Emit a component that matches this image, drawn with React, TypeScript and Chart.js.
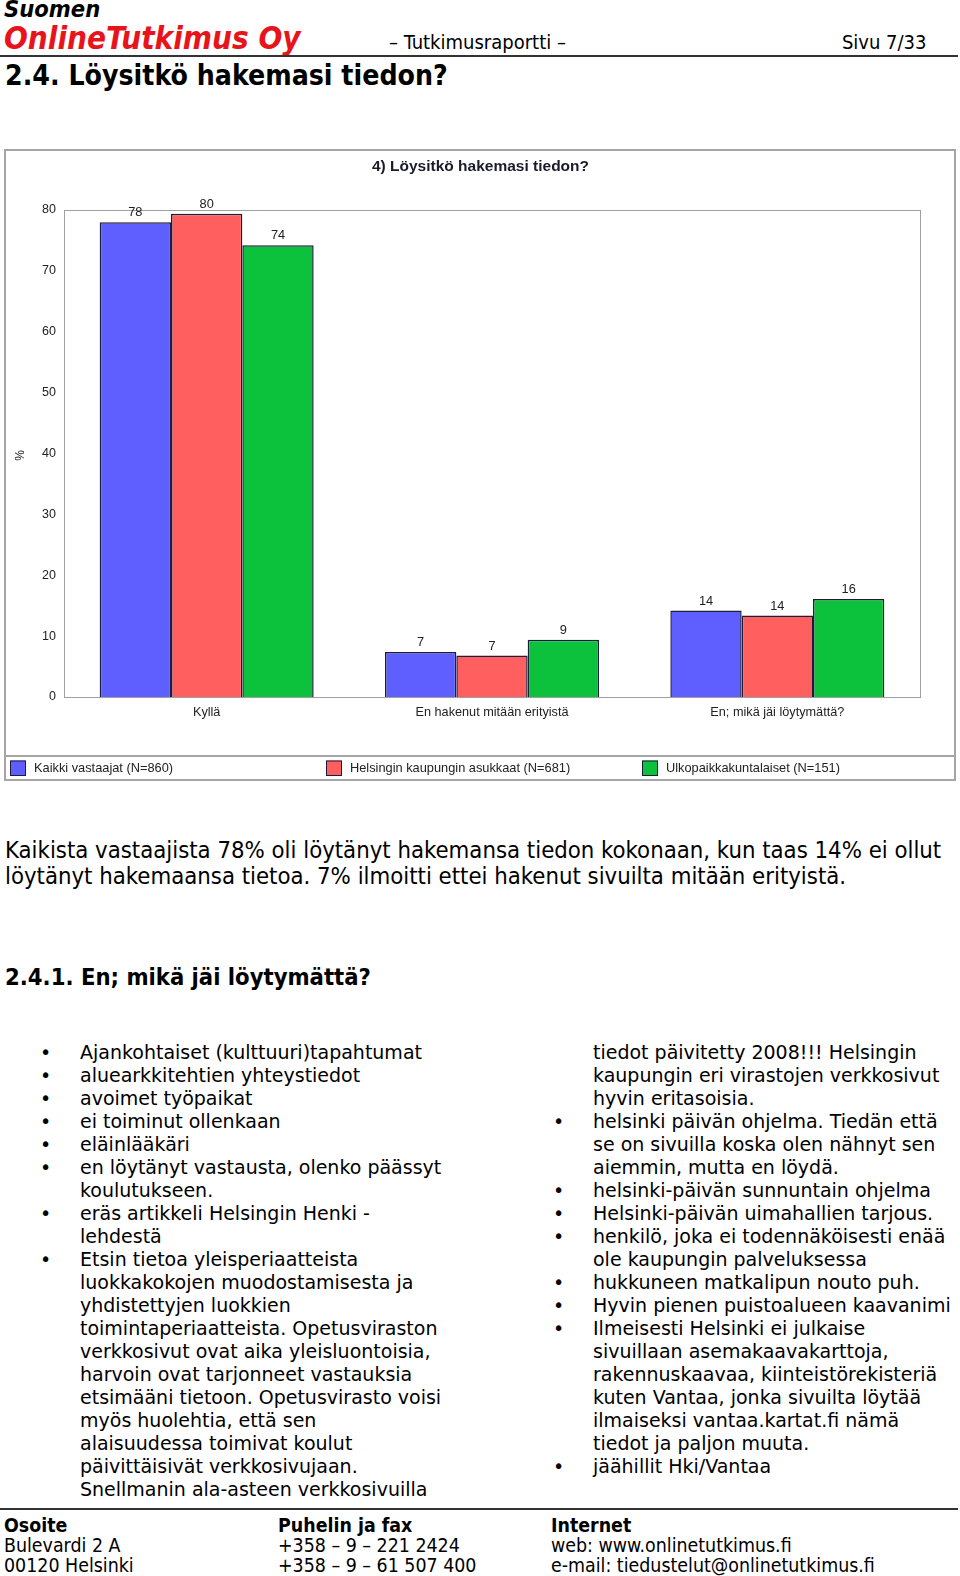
import React, { useEffect, useRef } from "react";
import { Chart, registerables } from "chart.js";
Chart.register(...registerables);

const chartTitle = "4) Löysitkö hakemasi tiedon?";
const categories = ["Kyllä", "En hakenut mitään erityistä", "En; mikä jäi löytymättä?"];
const seriesNames = ["Kaikki vastaajat (N=860)", "Helsingin kaupungin asukkaat (N=681)", "Ulkopaikkakuntalaiset (N=151)"];
const seriesColors = ["#5f5fff", "#ff5f5f", "#0cc23c"];
const kaikkiValues = [78.0, 7.4, 14.2];
const helsinkiValues = [79.4, 6.8, 13.4];
const ulkoValues = [74.2, 9.4, 16.1];
const kaikkiLabels = ["78", "7", "14"];
const helsinkiLabels = ["80", "7", "14"];
const ulkoLabels = ["74", "9", "16"];
const yMin = 0;
const yMax = 80;
const yStep = 10;
const yAxisTitle = "%";

const CHART_FONT = "'Liberation Sans', Arial, sans-serif";
const COND = "'DejaVu Sans Condensed', 'DejaVu Sans', sans-serif";
const WIDE = "'DejaVu Sans', Verdana, sans-serif";

const leftBullets: string[][] = [
  ["Ajankohtaiset (kulttuuri)tapahtumat"],
  ["aluearkkitehtien yhteystiedot"],
  ["avoimet työpaikat"],
  ["ei toiminut ollenkaan"],
  ["eläinlääkäri"],
  ["en löytänyt vastausta, olenko päässyt", "koulutukseen."],
  ["eräs artikkeli Helsingin Henki -", "lehdestä"],
  [
    "Etsin tietoa yleisperiaatteista",
    "luokkakokojen muodostamisesta ja",
    "yhdistettyjen luokkien",
    "toimintaperiaatteista. Opetusviraston",
    "verkkosivut ovat aika yleisluontoisia,",
    "harvoin ovat tarjonneet vastauksia",
    "etsimääni tietoon. Opetusvirasto voisi",
    "myös huolehtia, että sen",
    "alaisuudessa toimivat koulut",
    "päivittäisivät verkkosivujaan.",
    "Snellmanin ala-asteen verkkosivuilla",
  ],
];
const rightContinuation = [
  "tiedot päivitetty 2008!!! Helsingin",
  "kaupungin eri virastojen verkkosivut",
  "hyvin eritasoisia.",
];
const rightBullets: string[][] = [
  ["helsinki päivän ohjelma. Tiedän että", "se on sivuilla koska olen nähnyt sen", "aiemmin, mutta en löydä."],
  ["helsinki-päivän sunnuntain ohjelma"],
  ["Helsinki-päivän uimahallien tarjous."],
  ["henkilö, joka ei todennäköisesti enää", "ole kaupungin palveluksessa"],
  ["hukkuneen matkalipun nouto puh."],
  ["Hyvin pienen puistoalueen kaavanimi"],
  [
    "Ilmeisesti Helsinki ei julkaise",
    "sivuillaan asemakaavakarttoja,",
    "rakennuskaavaa, kiinteistörekisteriä",
    "kuten Vantaa, jonka sivuilta löytää",
    "ilmaiseksi vantaa.kartat.fi nämä",
    "tiedot ja paljon muuta.",
  ],
  ["jäähillit Hki/Vantaa"],
];

const paragraphLines = [
  "Kaikista vastaajista 78% oli löytänyt hakemansa tiedon kokonaan, kun taas 14% ei ollut",
  "löytänyt hakemaansa tietoa. 7% ilmoitti ettei hakenut sivuilta mitään erityistä.",
];

const footerCols = [
  ["Osoite", "Bulevardi 2 A", "00120 Helsinki"],
  ["Puhelin ja fax", "+358 – 9 – 221 2424", "+358 – 9 – 61 507 400"],
  ["Internet", "web: www.onlinetutkimus.fi", "e-mail: tiedustelut@onlinetutkimus.fi"],
];

type TProps = { x?: number; r?: number; b: number; s: number; f?: string; st?: React.CSSProperties; children: React.ReactNode };
const T = ({ x, r, b, s, f, st, children }: TProps) => (
  <div
    style={{
      position: "absolute",
      left: x,
      right: r,
      top: b - 0.846 * s,
      fontSize: s,
      lineHeight: s + "px",
      whiteSpace: "pre",
      fontFamily: f || COND,
      color: "#000",
      ...st,
    }}
  >
    {children}
  </div>
);

function BarChart() {
  const ref = useRef<HTMLCanvasElement | null>(null);
  useEffect(() => {
    if (!ref.current) return;
    const labelSets = [kaikkiLabels, helsinkiLabels, ulkoLabels];
    const decor = {
      id: "decor",
      beforeDatasetsDraw(chart: any) {
        const { ctx, chartArea: a } = chart;
        ctx.save();
        ctx.strokeStyle = "#a0a0a0";
        ctx.lineWidth = 1;
        ctx.strokeRect(Math.round(a.left) + 0.5, Math.round(a.top) + 0.5, Math.round(a.right - a.left), Math.round(a.bottom - a.top));
        ctx.restore();
      },
      afterDatasetsDraw(chart: any) {
        const { ctx } = chart;
        ctx.save();
        ctx.font = `12.8px ${CHART_FONT}`;
        ctx.fillStyle = "#222";
        ctx.textAlign = "center";
        ctx.textBaseline = "bottom";
        chart.data.datasets.forEach((ds: any, i: number) => {
          const meta = chart.getDatasetMeta(i);
          meta.data.forEach((bar: any, j: number) => {
            ctx.fillText(labelSets[i][j], bar.x, bar.y - 3);
          });
        });
        ctx.restore();
      },
      afterDraw(chart: any) {
        const { ctx, chartArea: a, width } = chart;
        ctx.save();
        ctx.fillStyle = "#1a1a2a";
        ctx.font = `bold 15.5px ${CHART_FONT}`;
        ctx.textAlign = "center";
        ctx.textBaseline = "middle";
        ctx.fillText(chartTitle, 474.5, 16);
        ctx.save();
        ctx.translate(15, (a.top + a.bottom) / 2 + 2);
        ctx.rotate(-Math.PI / 2);
        ctx.font = `12px ${CHART_FONT}`;
        ctx.fillStyle = "#222";
        ctx.fillText(yAxisTitle, 0, 0);
        ctx.restore();
        // separator
        ctx.strokeStyle = "#a5a5a5";
        ctx.lineWidth = 2;
        ctx.beginPath();
        ctx.moveTo(0, 605);
        ctx.lineTo(width, 605);
        ctx.stroke();
        // legend
        const itemW = width / 3;
        ctx.font = `12.8px ${CHART_FONT}`;
        ctx.textAlign = "left";
        chart.data.datasets.forEach((ds: any, i: number) => {
          const x0 = 4 + itemW * i;
          ctx.fillStyle = ds.backgroundColor;
          ctx.fillRect(x0, 609.5, 16, 15.5);
          ctx.strokeStyle = "#1c1c3c";
          ctx.lineWidth = 1;
          ctx.strokeRect(x0 + 0.5, 610, 15, 14.5);
          ctx.fillStyle = "#222";
          ctx.fillText(ds.label, x0 + 24, 617.5);
        });
        ctx.restore();
      },
    };
    const valueSets = [kaikkiValues, helsinkiValues, ulkoValues];
    const chart = new Chart(ref.current, {
      type: "bar",
      data: {
        labels: categories,
        datasets: seriesNames.map((n, i) => ({
          label: n,
          data: valueSets[i],
          backgroundColor: seriesColors[i],
          borderColor: "#1c1c3c",
          borderWidth: 1.5,
          categoryPercentage: 0.75,
          barPercentage: 1.0,
        })),
      },
      options: {
        animation: false,
        responsive: false,
        maintainAspectRatio: false,
        layout: { padding: { left: 0, right: 34, top: 59, bottom: 40 } },
        plugins: { legend: { display: false }, title: { display: false }, tooltip: { enabled: false } },
        scales: {
          x: {
            grid: { display: false, drawTicks: false },
            border: { display: false },
            ticks: { padding: 8, color: "#222", font: { family: CHART_FONT, size: 12.7 } },
            afterFit: (s: any) => {
              s.height = 42;
            },
          },
          y: {
            min: yMin,
            max: yMax,
            grid: { display: false, drawTicks: false },
            border: { display: false },
            ticks: { stepSize: yStep, padding: 8, color: "#222", font: { family: CHART_FONT, size: 12.5 } },
            afterFit: (s: any) => {
              s.width = 58;
            },
          },
        },
      },
      plugins: [decor],
    } as any);
    return () => chart.destroy();
  }, []);
  return <canvas ref={ref} width={948} height={628} style={{ width: 948, height: 628, display: "block" }} />;
}

export default function App() {
  const lineH = 23;
  const bulletBase = 1059.5;
  const bs = 19;
  const leftRows: { text: string; bullet: boolean }[] = [];
  leftBullets.forEach((b) => b.forEach((t, i) => leftRows.push({ text: t, bullet: i === 0 })));
  const rightRows: { text: string; bullet: boolean }[] = [];
  rightContinuation.forEach((t) => rightRows.push({ text: t, bullet: false }));
  rightBullets.forEach((b) => b.forEach((t, i) => rightRows.push({ text: t, bullet: i === 0 })));

  return (
    <div style={{ position: "absolute", left: 0, top: 0, width: 960, height: 1576, background: "#fff", overflow: "hidden" }}>
      <T x={4} b={18} s={23.5} st={{ fontWeight: "bold", fontStyle: "italic" }}>Suomen</T>
      <T x={4} b={49} s={31.2} st={{ fontWeight: "bold", fontStyle: "italic", color: "#e8141c" }}>OnlineTutkimus Oy</T>
      <T x={389} b={48.5} s={20}>– Tutkimusraportti –</T>
      <T r={33.5} b={48.5} s={20}>Sivu 7/33</T>
      <div style={{ position: "absolute", left: 0, top: 55, width: 958, height: 2, background: "#333" }} />
      <T x={5} b={85.6} s={28.2} st={{ fontWeight: "bold" }}>2.4. Löysitkö hakemasi tiedon?</T>

      <div style={{ position: "absolute", left: 4, top: 149, width: 948, height: 628, border: "2px solid #a5a5a5" }}>
        <BarChart />
      </div>

      {paragraphLines.map((t, i) => (
        <T key={i} x={5} b={859.5 + i * 25.1} s={23.7}>{t}</T>
      ))}
      <T x={5} b={986} s={23.6} st={{ fontWeight: "bold" }}>2.4.1. En; mikä jäi löytymättä?</T>

      {leftRows.map((row, i) => (
        <React.Fragment key={"l" + i}>
          {row.bullet && <T x={40} b={bulletBase + i * lineH} s={bs} f={WIDE}>•</T>}
          <T x={80} b={bulletBase + i * lineH} s={bs} f={WIDE}>{row.text}</T>
        </React.Fragment>
      ))}
      {rightRows.map((row, i) => (
        <React.Fragment key={"r" + i}>
          {row.bullet && <T x={553} b={bulletBase + i * lineH} s={bs} f={WIDE}>•</T>}
          <T x={593} b={bulletBase + i * lineH} s={bs} f={WIDE}>{row.text}</T>
        </React.Fragment>
      ))}

      <div style={{ position: "absolute", left: 0, top: 1508, width: 958, height: 2, background: "#333" }} />
      {footerCols.map((col, ci) => (
        <React.Fragment key={"f" + ci}>
          {col.map((t, li) => (
            <T key={li} x={[4, 278, 551][ci]} b={1532 + li * 20.1} s={19.4} st={li === 0 ? { fontWeight: "bold" } : undefined}>{t}</T>
          ))}
        </React.Fragment>
      ))}
    </div>
  );
}
